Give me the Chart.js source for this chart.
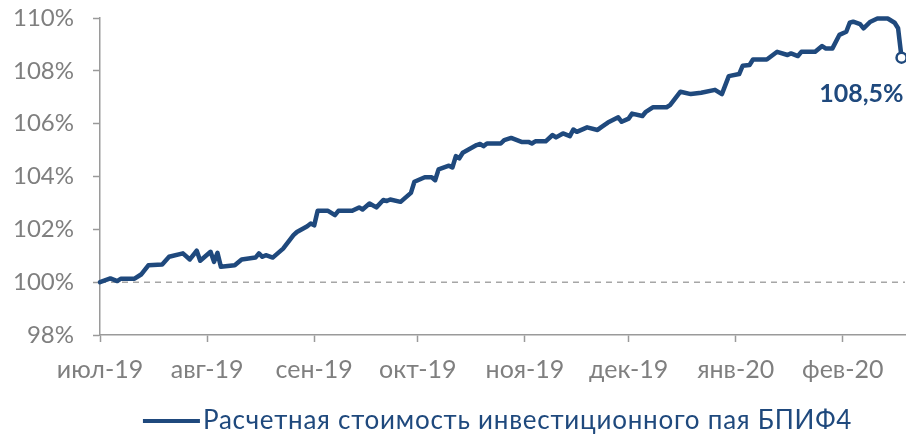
<!DOCTYPE html>
<html><head><meta charset="utf-8">
<script src="https://cdn.jsdelivr.net/npm/chart.js@4.4.1/dist/chart.umd.min.js"></script>
<style>html,body{margin:0;padding:0;background:#fff}#wrap{width:906px;height:435px}</style>
</head><body><div id="wrap"><canvas id="c" width="906" height="435"></canvas></div>
<script>
// day offsets from 1 Jul 2019
const days = [0,3,5,6,10,12,14,18,20,24,26,28,29,32,33,34,35,39,41,45,46,47,48,50,53,56,57,60,61,62,63,66,68,69,73,75,76,78,80,82,83,84,87,90,91,94,96,97,98,101,102,103,104,105,109,110,111,112,116,117,119,122,124,125,126,129,131,132,134,136,137,138,141,144,145,147,150,151,153,154,157,158,160,164,165,168,171,174,178,180,182,185,186,188,189,193,196,199,200,202,203,207,209,210,212,214,216,217,218,220,221,223,225,228,230,231,232];
const values = [100.00,100.14,100.04,100.13,100.13,100.30,100.64,100.67,100.96,101.09,100.86,101.19,100.81,101.15,100.77,101.11,100.58,100.64,100.86,100.93,101.09,100.96,101.02,100.93,101.27,101.78,101.90,102.12,102.22,102.15,102.70,102.70,102.54,102.70,102.70,102.83,102.75,102.98,102.83,103.11,103.07,103.13,103.04,103.38,103.80,103.97,103.97,103.86,104.27,104.41,104.34,104.77,104.69,104.90,105.19,105.23,105.15,105.25,105.25,105.38,105.46,105.31,105.31,105.25,105.33,105.33,105.57,105.48,105.63,105.53,105.78,105.69,105.86,105.76,105.86,106.04,106.24,106.07,106.19,106.38,106.29,106.45,106.62,106.62,106.70,107.21,107.12,107.17,107.28,107.12,107.80,107.88,108.19,108.22,108.43,108.43,108.72,108.60,108.66,108.56,108.72,108.72,108.94,108.85,108.85,109.36,109.48,109.82,109.86,109.77,109.61,109.86,109.98,109.98,109.82,109.61,108.50];
const monthDays = [0,31,62,92,123,153,184,215];
const monthLabels = ['июл-19','авг-19','сен-19','окт-19','ноя-19','дек-19','янв-20','фев-20'];
const yTicks = [98,100,102,104,106,108,110];
const baselineValue = 100;
const seriesName = 'Расчетная стоимость инвестиционного пая БПИФ4';
const lastLabel = '108,5%';
const xMax = 233;

const BLUE = '#1F497D';
const AXIS = '#9A9A9A';
const TICKC = '#7F7F7F';
const FONT = 'Lato, "Open Sans", sans-serif';

const extras = {
  id: 'extras',
  afterDraw(chart) {
    const ctx = chart.ctx;
    const meta = chart.getDatasetMeta(0);
    const last = meta.data[meta.data.length - 1];
    ctx.save();
    ctx.fillStyle = BLUE;
    ctx.font = 'bold 25px ' + FONT;
    ctx.textAlign = 'right';
    ctx.textBaseline = 'middle';
    ctx.fillText(lastLabel, last.x + 2, last.y + 36);
    // legend
    ctx.font = '26px ' + FONT;
    ctx.letterSpacing = '0.75px';
    const tw = ctx.measureText(seriesName).width;
    const lineLen = 57, gap = 3;
    const total = lineLen + gap + tw;
    const ca = chart.chartArea;
    const cx = (ca.left + ca.right) / 2 - 5;
    const x0 = cx - total / 2;
    const y = 421;
    ctx.strokeStyle = BLUE;
    ctx.lineWidth = 4;
    ctx.beginPath(); ctx.moveTo(x0, y); ctx.lineTo(x0 + lineLen, y); ctx.stroke();
    ctx.textAlign = 'left';
    ctx.fillText(seriesName, x0 + lineLen + gap, y);
    ctx.restore();
  }
};

new Chart(document.getElementById('c'), {
  type: 'line',
  data: {
    datasets: [
      {
        label: seriesName,
        data: days.map((d, i) => ({x: d, y: values[i]})),
        borderColor: BLUE,
        borderWidth: 4.5,
        borderJoinStyle: 'round',
        borderCapStyle: 'round',
        tension: 0,
        pointRadius: c => c.dataIndex === values.length - 1 ? 5 : 0,
        pointBackgroundColor: '#fff',
        pointBorderColor: BLUE,
        pointBorderWidth: 2.5,
        clip: false,
        order: 0
      },
      {
        label: 'base',
        data: [{x: 0, y: baselineValue}, {x: xMax, y: baselineValue}],
        borderColor: '#A6A6A6',
        borderWidth: 1.5,
        borderDash: [6, 5],
        pointRadius: 0,
        order: 1
      }
    ]
  },
  options: {
    responsive: false,
    animation: false,
    devicePixelRatio: 1,
    layout: {autoPadding: false, padding: {top: 18, right: 1, left: 0, bottom: 0}},
    plugins: {legend: {display: false}, tooltip: {enabled: false}},
    scales: {
      x: {
        type: 'linear', min: 0, max: xMax,
        afterBuildTicks: s => { s.ticks = monthDays.map(v => ({value: v})); },
        afterFit: s => { s.height = 100; s.paddingLeft = 0; s.paddingRight = 0; },
        ticks: {
          callback: v => monthLabels[monthDays.indexOf(v)],
          font: {family: FONT, size: 25}, color: TICKC, padding: 13,
          maxRotation: 0, autoSkip: false
        },
        grid: {drawOnChartArea: false, drawTicks: true, tickLength: 7, color: AXIS, tickWidth: 1.5},
        border: {color: AXIS, width: 1.5}
      },
      y: {
        min: 98, max: 110,
        afterBuildTicks: s => { s.ticks = yTicks.map(v => ({value: v})); },
        afterFit: s => { s.width = 100; s.paddingTop = 0; s.paddingBottom = 0; },
        ticks: {
          callback: v => v + '%',
          font: {family: FONT, size: 24}, color: TICKC, padding: 19
        },
        grid: {drawOnChartArea: false, drawTicks: true, tickLength: 7, color: AXIS, tickWidth: 1.5},
        border: {color: AXIS, width: 1.5}
      }
    }
  },
  plugins: [extras]
});
</script></body></html>
